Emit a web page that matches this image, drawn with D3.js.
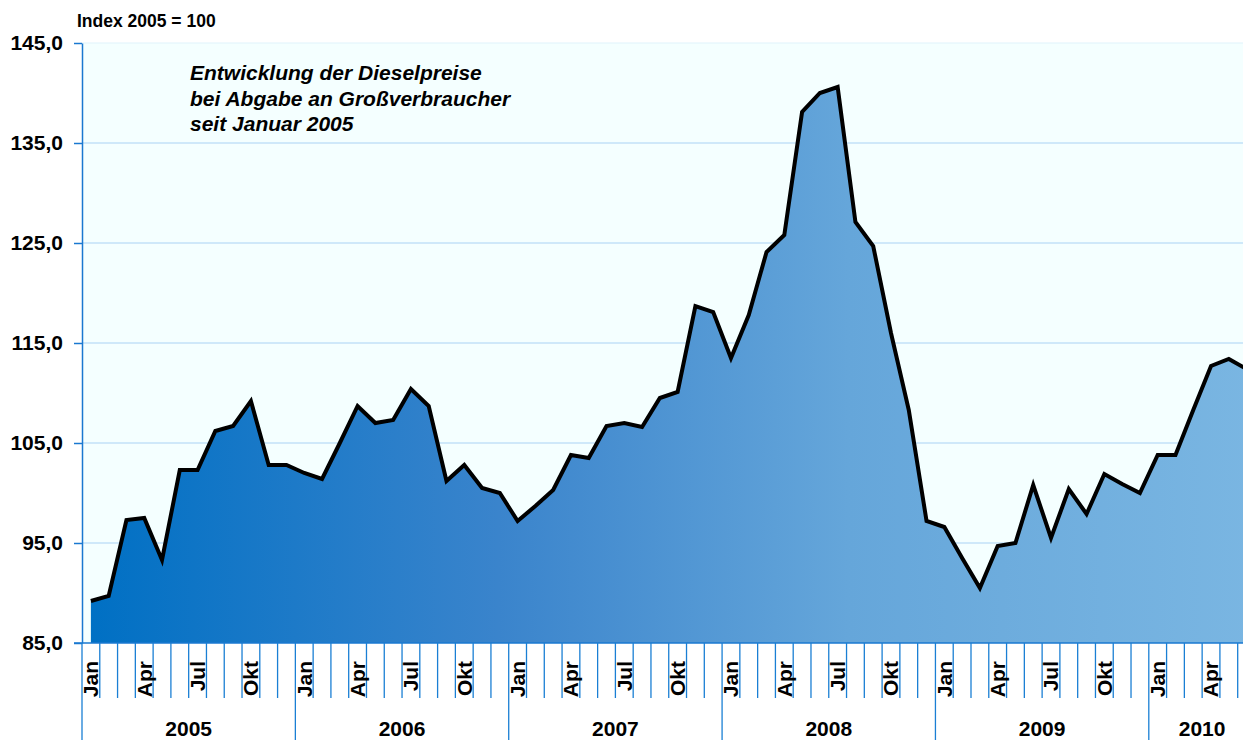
<!DOCTYPE html>
<html>
<head>
<meta charset="utf-8">
<script src="https://cdn.jsdelivr.net/npm/d3@7"></script>
<style>
  body { margin: 0; background: #fff; }
  svg { display: block; font-family: "Liberation Sans", Arial, sans-serif; }
</style>
</head>
<body>
<div id="chart"></div>
<script>
// Index 2005 = 100, monthly values Jan 2005 - Jun 2010
var years = ["2005", "2006", "2007", "2008", "2009", "2010"];
var monthNames = ["Jan", "Feb", "Mär", "Apr", "Mai", "Jun", "Jul", "Aug", "Sep", "Okt", "Nov", "Dez"];
var labelMonths = ["Jan", "Apr", "Jul", "Okt"];
var values = [
  89.2, 89.7, 97.3, 97.5, 93.3, 102.3, 102.3, 106.2, 106.7, 109.2, 102.8, 102.8,
  102.0, 101.4, 105.0, 108.7, 107.0, 107.3, 110.4, 108.7, 101.2, 102.8, 100.5, 100.0,
  97.2, 98.7, 100.3, 103.8, 103.5, 106.7, 107.0, 106.6, 109.5, 110.1, 118.7, 118.1,
  113.5, 117.8, 124.1, 125.8, 138.1, 140.0, 140.6, 127.1, 124.7, 116.0, 108.3, 97.2,
  96.6, 93.5, 90.5, 94.7, 95.0, 100.8, 95.5, 100.4, 97.9, 101.9, 100.9, 100.0,
  103.8, 103.8, 108.3, 112.7, 113.4, 112.4
];
var yTicks = [85, 95, 105, 115, 125, 135, 145];
var titleLines = ["Entwicklung der Dieselpreise", "bei Abgabe an Großverbraucher", "seit Januar 2005"];

var W = 1243, H = 740;
var plotL = 82, plotT = 43, plotB = 643;
var monthW = 17.78;

var months = values.map(function(v, i) {
  return { key: years[Math.floor(i / 12)] + "-" + i, year: years[Math.floor(i / 12)], name: monthNames[i % 12], value: v };
});

var svg = d3.select("#chart").append("svg")
  .attr("width", W)
  .attr("height", H);

var x = d3.scaleBand()
  .domain(months.map(function(d) { return d.key; }))
  .range([plotL, plotL + months.length * monthW])
  .padding(0);

var y = d3.scaleLinear()
  .domain([85, 145])
  .range([plotB, plotT]);

var defs = svg.append("defs");
var grad = defs.append("linearGradient")
  .attr("id", "fillGrad")
  .attr("gradientUnits", "userSpaceOnUse")
  .attr("x1", plotL + 9).attr("x2", plotL + months.length * monthW)
  .attr("y1", 0).attr("y2", 0);
grad.append("stop").attr("offset", "0%").attr("stop-color", "#0070c4");
grad.append("stop").attr("offset", "35%").attr("stop-color", "#3a84cc");
grad.append("stop").attr("offset", "65%").attr("stop-color", "#65a6da");
grad.append("stop").attr("offset", "100%").attr("stop-color", "#7ab6e2");

// plot background
svg.append("rect")
  .attr("x", plotL).attr("y", plotT)
  .attr("width", W - plotL).attr("height", plotB - plotT)
  .attr("fill", "#f4ffff");

// gridlines
svg.append("g")
  .selectAll("line")
  .data(yTicks.slice(1))
  .enter().append("line")
  .attr("x1", plotL).attr("x2", W)
  .attr("y1", function(d) { return y(d); })
  .attr("y2", function(d) { return y(d); })
  .attr("stroke", function(d) { return d === 145 ? "#dff3fb" : "#a9d2f4"; })
  .attr("stroke-width", 1);

var cx = function(d) { return x(d.key) + x.bandwidth() / 2; };

var area = d3.area()
  .x(cx)
  .y0(y(85))
  .y1(function(d) { return y(d.value); });

var line = d3.line()
  .x(cx)
  .y(function(d) { return y(d.value); });

svg.append("path")
  .datum(months)
  .attr("d", area)
  .attr("fill", "url(#fillGrad)");

svg.append("path")
  .datum(months)
  .attr("d", line)
  .attr("fill", "none")
  .attr("stroke", "#000")
  .attr("stroke-width", 4)
  .attr("stroke-linejoin", "miter");

// y axis
var yAxis = d3.axisLeft(y)
  .tickValues(yTicks)
  .tickSize(8)
  .tickSizeOuter(0)
  .tickPadding(11)
  .tickFormat(function(d) { return d3.format(".1f")(d).replace(".", ","); });

var ya = svg.append("g")
  .attr("transform", "translate(" + plotL + ",0)")
  .call(yAxis);
ya.selectAll("path, line").attr("stroke", "#1a78d0").attr("stroke-width", 1.5);
ya.selectAll("text")
  .attr("fill", "#000")
  .style("font-size", "21px")
  .style("font-weight", "bold");

// bottom axis line
svg.append("line")
  .attr("x1", plotL - 8).attr("x2", W)
  .attr("y1", plotB).attr("y2", plotB)
  .attr("stroke", "#1a78d0").attr("stroke-width", 1.5);

// month separators
svg.append("g")
  .selectAll("line")
  .data(months)
  .enter().append("line")
  .attr("x1", function(d) { return x(d.key); })
  .attr("x2", function(d) { return x(d.key); })
  .attr("y1", plotB)
  .attr("y2", function(d) { return d.name === "Jan" ? H : 698; })
  .attr("stroke", "#1a7fd4")
  .attr("stroke-width", 1.3);

// month labels
svg.append("g")
  .selectAll("text")
  .data(months.filter(function(d) { return labelMonths.indexOf(d.name) >= 0; }))
  .enter().append("text")
  .attr("transform", function(d) { return "translate(" + cx(d) + ",661) rotate(-90)"; })
  .attr("dy", "0.35em")
  .attr("text-anchor", "end")
  .style("font-size", "21px")
  .style("font-weight", "bold")
  .text(function(d) { return d.name; });

// year labels, centred on each year's months
svg.append("g")
  .selectAll("text")
  .data(years)
  .enter().append("text")
  .attr("x", function(d) {
    var ms = months.filter(function(m) { return m.year === d; });
    return x(ms[0].key) + ms.length * monthW / 2;
  })
  .attr("y", 736)
  .attr("text-anchor", "middle")
  .style("font-size", "21px")
  .style("font-weight", "bold")
  .text(function(d) { return d; });

// labels
svg.append("text")
  .attr("x", 77).attr("y", 27)
  .style("font-size", "17.5px")
  .style("font-weight", "bold")
  .text("Index 2005 = 100");

svg.append("g")
  .selectAll("text")
  .data(titleLines)
  .enter().append("text")
  .attr("x", 190)
  .attr("y", function(d, i) { return 80 + i * 25.5; })
  .style("font-size", "21px")
  .style("font-weight", "bold")
  .style("font-style", "italic")
  .text(function(d) { return d; });
</script>
</body>
</html>
